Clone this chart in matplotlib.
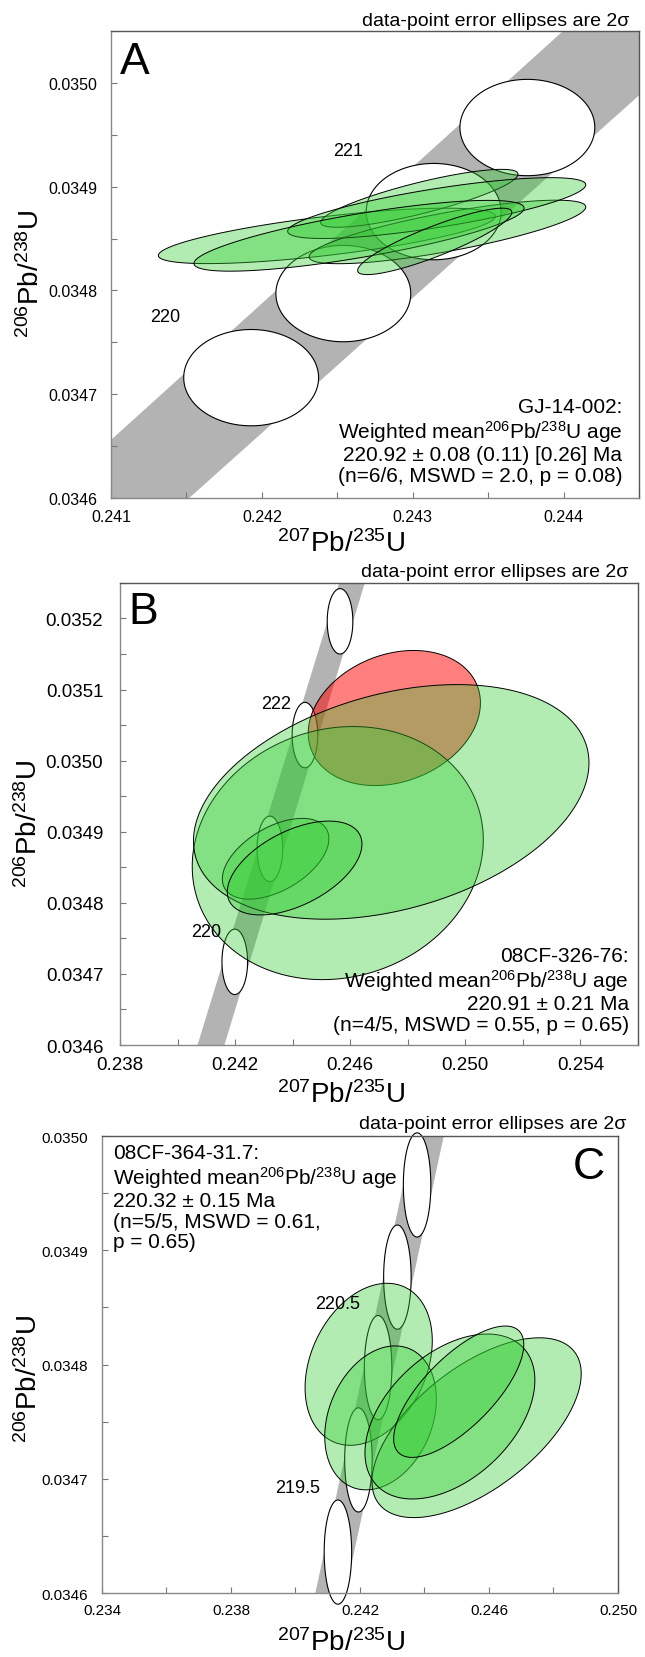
import numpy as np
import matplotlib
matplotlib.use('Agg')
import matplotlib.pyplot as plt
from matplotlib.ticker import MultipleLocator, FormatStrFormatter

plt.rcParams['font.family'] = ['Liberation Sans', 'DejaVu Sans']
plt.rcParams['mathtext.fontset'] = 'custom'
plt.rcParams['mathtext.rm'] = 'Liberation Sans'

# ---- panel A : GJ-14-002 ----
a_x   = [0.242431, 0.243044, 0.243230, 0.243159, 0.242644, 0.243146]
a_sx  = [0.001117, 0.000654, 0.000917, 0.000988, 0.001094, 0.000511]
a_y   = [0.0348526, 0.0348888, 0.0348564, 0.0348794, 0.0348527, 0.0348473]
a_sy  = [2.67e-5, 2.79e-5, 3.06e-5, 2.93e-5, 3.41e-5, 3.20e-5]
a_rho = [0.707, 0.832, 0.786, 0.764, 0.781, 0.875]
a_mark_x = [0.241929, 0.242540, 0.243139, 0.243760]
a_mark_y = [0.034716, 0.034797, 0.034876, 0.034957]
a_mark_sx, a_mark_sy = 0.000447, 0.0000464
a_band_x  = [0.240, 0.246]
a_band_lo = [0.0344025, 0.0351831]
a_band_hi = [0.0345245, 0.0353135]
a_age_lab = ['220', '221']
a_age_x = [0.24136, 0.242572]
a_age_y = [0.034775, 0.034935]
a_xticks = [0.241, 0.242, 0.243, 0.244]
a_yticks = [0.0346, 0.0347, 0.0348, 0.0349, 0.0350]

# ---- panel B : 08CF-326-76 (first one rejected, red) ----
b_x   = [0.247534, 0.245568, 0.243409, 0.247426, 0.244069]
b_sx  = [0.002991, 0.005057, 0.001851, 0.006872, 0.002339]
b_y   = [0.035060, 0.034870, 0.034862, 0.034942, 0.034849]
b_sy  = [9.50e-5, 1.78e-4, 5.68e-5, 1.65e-4, 6.60e-5]
b_rho = [0.224, 0.105, 0.498, 0.333, 0.51]
b_rejected = [True, False, False, False, False]
b_mark_x = [0.241989, 0.243208, 0.244428, 0.245647]
b_mark_y = [0.034717, 0.034876, 0.035036, 0.035196]
b_mark_sx, b_mark_sy = 0.000445, 0.000046
b_band_x  = [0.238, 0.256]
b_band_lo = [0.0341162, 0.0365152]
b_band_hi = [0.0342440, 0.0366214]
b_age_lab = ['222', '220']
b_age_x = [0.243409, 0.240984]
b_age_y = [0.035080, 0.034760]
b_xticks = [0.238, 0.242, 0.246, 0.250, 0.254]
b_yticks = [0.0346, 0.0347, 0.0348, 0.0349, 0.0350, 0.0351, 0.0352]

# ---- panel C : 08CF-364-31.7 ----
c_x   = [0.242270, 0.242638, 0.245616, 0.244789, 0.245062]
c_sx  = [0.001972, 0.001730, 0.003244, 0.002634, 0.002017]
c_y   = [0.0348002, 0.0347533, 0.0347447, 0.0347545, 0.0347762]
c_sy  = [7.09e-5, 6.30e-5, 7.87e-5, 7.22e-5, 5.75e-5]
c_rho = [0.29, 0.26, 0.60, 0.44, 0.716]
c_mark_x = [0.241316, 0.241952, 0.242562, 0.243160, 0.243771]
c_mark_y = [0.0346358, 0.0347165, 0.0347973, 0.0348765, 0.0349572]
c_mark_sx, c_mark_sy = 0.000426, 0.0000456
c_band_x  = [0.234, 0.250]
c_band_lo = [0.0336115, 0.0357078]
c_band_hi = [0.0337332, 0.0358295]
c_age_lab = ['220.5', '219.5']
c_age_x = [0.241316, 0.240069]
c_age_y = [0.034853, 0.034692]
c_xticks = [0.234, 0.238, 0.242, 0.246, 0.250]
c_yticks = [0.0346, 0.0347, 0.0348, 0.0349, 0.0350]

txt_a = ('GJ-14-002:\nWeighted mean$\\mathregular{^{206}}$Pb/$\\mathregular{^{238}}$U age\n'
         '220.92 ± 0.08 (0.11) [0.26] Ma\n(n=6/6, MSWD = 2.0, p = 0.08)')
txt_b = ('08CF-326-76:\nWeighted mean$\\mathregular{^{206}}$Pb/$\\mathregular{^{238}}$U age\n'
         '220.91 ± 0.21 Ma\n(n=4/5, MSWD = 0.55, p = 0.65)')
txt_c = ('08CF-364-31.7:\nWeighted mean$\\mathregular{^{206}}$Pb/$\\mathregular{^{238}}$U age\n'
         '220.32 ± 0.15 Ma\n(n=5/5, MSWD = 0.61,\np = 0.65)')

GREEN = (0.2, 0.8, 0.2, 0.37)
RED = (1.0, 0.0, 0.0, 0.5)
xlab = '$\\mathregular{^{207}}$Pb/$\\mathregular{^{235}}$U'
ylab = '$\\mathregular{^{206}}$Pb/$\\mathregular{^{238}}$U'


def ellipse(ax, x, sx, y, sy, rho, fc, ec, lw=0.8, z=3, clip=True):
    t = np.linspace(0, 2 * np.pi, 300)
    ex = x + sx * np.cos(t)
    ey = y + sy * (rho * np.cos(t) + np.sqrt(1 - rho ** 2) * np.sin(t))
    ax.fill(ex, ey, facecolor=fc, edgecolor=ec, linewidth=lw, zorder=z, clip_on=clip)


def setup(ax, xlim, ylim, xticks, yticks, lsize, xpad, ypad):
    ax.set_xticks(xticks)
    ax.set_yticks(yticks)
    ax.xaxis.set_minor_locator(MultipleLocator((xticks[1] - xticks[0]) / 2))
    ax.yaxis.set_minor_locator(MultipleLocator((yticks[1] - yticks[0]) / 2))
    ax.xaxis.set_major_formatter(FormatStrFormatter('%.3f'))
    ax.yaxis.set_major_formatter(FormatStrFormatter('%.4f'))
    ax.set_xlim(xlim)
    ax.set_ylim(ylim)
    ax.tick_params(which='both', direction='in', color='#777777', width=0.8, length=4)
    ax.tick_params(axis='x', labelsize=lsize, pad=xpad)
    ax.tick_params(axis='y', labelsize=lsize, pad=ypad)
    for s in ['left', 'bottom']:
        ax.spines[s].set_color('#888888')
    for s in ['top', 'right']:
        ax.spines[s].set_color('#555555')
    for s in ax.spines.values():
        s.set_linewidth(1.0)
    ax.set_xlabel(xlab, fontsize=20)
    ax.set_ylabel(ylab, fontsize=20)
    ax.xaxis.label.set_va('center')
    ax.yaxis.label.set_va('center')


fig = plt.figure(figsize=(6.45, 16.58), dpi=100)

# ---------------- A ----------------
ax1 = fig.add_axes([0.1721, 0.6990, 0.8186, 0.2817])
setup(ax1, (0.241, 0.2445), (0.0346, 0.03505), a_xticks, a_yticks, 11.5, 8, 10)
ax1.fill_between(a_band_x, a_band_lo, a_band_hi, color='#b3b3b3', lw=0, zorder=1)
for mx, my in zip(a_mark_x, a_mark_y):
    ellipse(ax1, mx, a_mark_sx, my, a_mark_sy, 0.0, 'white', 'black', z=2)
for i in range(len(a_x)):
    ellipse(ax1, a_x[i], a_sx[i], a_y[i], a_sy[i], a_rho[i], GREEN, 'black', lw=0.7)
for lab, lx, ly in zip(a_age_lab, a_age_x, a_age_y):
    ax1.text(lx, ly, lab, fontsize=13, ha='center', va='center', zorder=5)
ax1.text(0.968, 0.028, txt_a, transform=ax1.transAxes, ha='right', va='bottom',
         fontsize=15, linespacing=1.1, zorder=6)
ax1.text(0.017, 0.910, 'A', transform=ax1.transAxes, fontsize=32, va='baseline', zorder=6)
ax1.text(0.981, 1.013, 'data-point error ellipses are 2σ', transform=ax1.transAxes,
         ha='right', va='baseline', fontsize=14)
ax1.xaxis.set_label_coords(0.436, -0.096)
ax1.yaxis.set_label_coords(-0.152, 0.482)

# ---------------- B ----------------
ax2 = fig.add_axes([0.1860, 0.3691, 0.8031, 0.2787])
setup(ax2, (0.238, 0.256), (0.0346, 0.03525), b_xticks, b_yticks, 13.5, 8, 12)
ax2.fill_between(b_band_x, b_band_lo, b_band_hi, color='#b3b3b3', lw=0, zorder=1)
for mx, my in zip(b_mark_x, b_mark_y):
    ellipse(ax2, mx, b_mark_sx, my, b_mark_sy, 0.0, 'white', 'black', z=2)
for i in range(len(b_x)):
    fc = RED if b_rejected[i] else GREEN
    ellipse(ax2, b_x[i], b_sx[i], b_y[i], b_sy[i], b_rho[i], fc, 'black', lw=0.7)
for lab, lx, ly in zip(b_age_lab, b_age_x, b_age_y):
    ax2.text(lx, ly, lab, fontsize=13, ha='center', va='center', zorder=5)
ax2.text(0.982, 0.024, txt_b, transform=ax2.transAxes, ha='right', va='bottom',
         fontsize=15, linespacing=1.1, zorder=6)
ax2.text(0.017, 0.913, 'B', transform=ax2.transAxes, fontsize=32, va='baseline', zorder=6)
ax2.text(0.981, 1.015, 'data-point error ellipses are 2σ', transform=ax2.transAxes,
         ha='right', va='baseline', fontsize=14)
ax2.xaxis.set_label_coords(0.427, -0.106)
ax2.yaxis.set_label_coords(-0.176, 0.48)

# ---------------- C ----------------
ax3 = fig.add_axes([0.1581, 0.0386, 0.8000, 0.2756])
setup(ax3, (0.234, 0.250), (0.0346, 0.0350), c_xticks, c_yticks, 11, 7, 10)
ax3.fill_between(c_band_x, c_band_lo, c_band_hi, color='#b3b3b3', lw=0, zorder=1)
for mx, my in zip(c_mark_x, c_mark_y):
    ellipse(ax3, mx, c_mark_sx, my, c_mark_sy, 0.0, 'white', 'black', z=2, clip=False)
for i in range(len(c_x)):
    ellipse(ax3, c_x[i], c_sx[i], c_y[i], c_sy[i], c_rho[i], GREEN, 'black', lw=0.7)
for lab, lx, ly in zip(c_age_lab, c_age_x, c_age_y):
    ax3.text(lx, ly, lab, fontsize=13, ha='center', va='center', zorder=5)
ax3.text(0.021, 0.985, txt_c, transform=ax3.transAxes, ha='left', va='top',
         fontsize=15, linespacing=1.1, zorder=6)
ax3.text(0.975, 0.908, 'C', transform=ax3.transAxes, fontsize=32, ha='right',
         va='baseline', zorder=6)
ax3.text(1.0155, 1.0175, 'data-point error ellipses are 2σ', transform=ax3.transAxes,
         ha='right', va='baseline', fontsize=14)
ax3.xaxis.set_label_coords(0.463, -0.107)
ax3.yaxis.set_label_coords(-0.141, 0.47)

fig.savefig('out.png', dpi=100)
